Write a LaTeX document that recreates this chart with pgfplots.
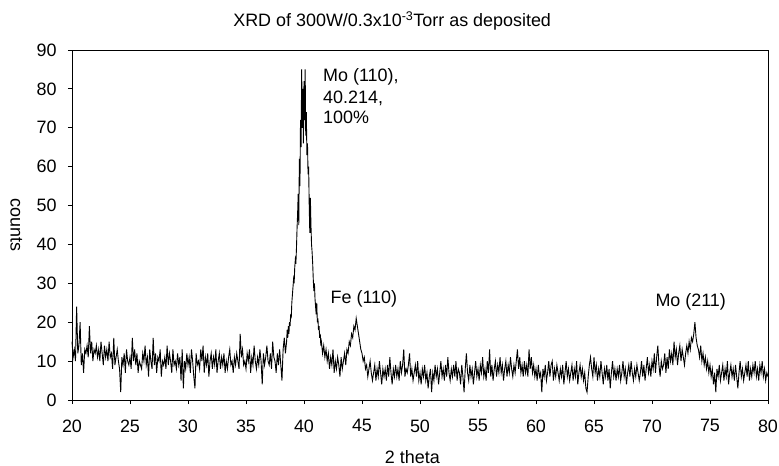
\documentclass[border=0pt]{standalone}
\usepackage{fontspec}
\setmainfont{Liberation Sans}
\usepackage{pgfplots}
\pgfplotsset{compat=1.18}

\begin{document}
\begin{tikzpicture}
\useasboundingbox (-72bp,-66bp) rectangle (707bp,400bp);
\begin{axis}[
    at={(0,0)}, anchor=south west,
    width=696bp, height=350bp, scale only axis,
    xmin=20, xmax=80, ymin=0, ymax=90,
    xtick={20,25,...,80},
    ytick={0,10,...,90},
    tick align=outside, tick pos=left,
    major tick length=4bp,
    axis line style={line width=0.9pt},
    every tick/.style={black, line width=0.8pt},
    font=\fontsize{18}{22}\selectfont,
    tick label style={font=\fontsize{18}{22}\selectfont},
    xticklabel style={yshift=-12bp},
    yticklabel style={xshift=-8bp},
    /pgf/number format/assume math mode=true,
    xlabel={2 theta},
    ylabel={counts},
    every axis x label/.style={at={(axis description cs:0.489,-0.163)}, anchor=center},
    every axis y label/.style={at={(axis description cs:-0.08,0.5)}, anchor=center, rotate=-90},
    clip=false,
]
\addplot[black, line width=0.9bp] coordinates {
(20.0,15)(20.1,11)(20.2,13)(20.3,10)(20.4,24)(20.5,12)(20.6,14)(20.7,20)(20.8,9)(20.9,12)
(21.0,7)(21.1,13)(21.2,12)(21.3,14)(21.4,11)(21.5,19)(21.6,12)(21.7,15)(21.8,10)(21.9,13)
(22.0,12)(22.1,14)(22.2,11)(22.3,13)(22.4,10)(22.5,15)(22.6,12)(22.7,9)(22.8,14)(22.9,11)
(23.0,13)(23.1,10)(23.2,15)(23.3,11)(23.4,12)(23.5,8)(23.6,16)(23.7,9)(23.8,11)(23.9,13)
(24.0,10)(24.1,8)(24.2,2)(24.3,11)(24.4,9)(24.5,12)(24.6,7)(24.7,13)(24.8,10)(24.9,9)
(25.0,11)(25.1,8)(25.2,16)(25.3,10)(25.4,13)(25.5,9)(25.6,12)(25.7,7)(25.8,10)(25.9,9)
(26.0,8)(26.1,12)(26.2,10)(26.3,14)(26.4,9)(26.5,11)(26.6,6)(26.7,13)(26.8,10)(26.9,8)
(27.0,16)(27.1,9)(27.2,12)(27.3,7)(27.4,11)(27.5,10)(27.6,13)(27.7,6)(27.8,10)(27.9,9)
(28.0,11)(28.1,8)(28.2,14)(28.3,9)(28.4,12)(28.5,10)(28.6,7)(28.7,13)(28.8,9)(28.9,10)
(29.0,8)(29.1,12)(29.2,9)(29.3,11)(29.4,5)(29.5,13)(29.6,3)(29.7,10)(29.8,8)(29.9,12)
(30.0,9)(30.1,11)(30.2,7)(30.3,13)(30.4,10)(30.5,6)(30.6,3)(30.7,12)(30.8,9)(30.9,10)
(31.0,8)(31.1,13)(31.2,10)(31.3,14)(31.4,7)(31.5,11)(31.6,9)(31.7,12)(31.8,6)(31.9,10)
(32.0,12)(32.1,8)(32.2,11)(32.3,9)(32.4,13)(32.5,7)(32.6,10)(32.7,12)(32.8,8)(32.9,11)
(33.0,9)(33.1,12)(33.2,7)(33.3,10)(33.4,8)(33.5,11)(33.6,13)(33.7,9)(33.8,10)(33.9,7)
(34.0,11)(34.1,9)(34.2,12)(34.3,10)(34.4,8)(34.5,17)(34.6,11)(34.7,13)(34.8,9)(34.9,10)
(35.0,8)(35.1,12)(35.2,10)(35.3,13)(35.4,7)(35.5,11)(35.6,9)(35.7,14)(35.8,10)(35.9,8)
(36.0,11)(36.1,9)(36.2,13)(36.3,10)(36.4,4)(36.5,12)(36.6,9)(36.7,11)(36.8,14)(36.9,10)
(37.0,9)(37.1,12)(37.2,8)(37.3,15)(37.4,11)(37.5,10)(37.6,7)(37.7,12)(37.8,9)(37.9,13)
(38.0,9)(38.1,5)(38.2,13)(38.3,16)(38.4,12)
(38.50,15)(38.55,18)(38.60,16)(38.65,19)(38.70,17)(38.75,20)(38.80,19)(38.85,22)(38.90,21)(38.95,25)
(39.00,27)(39.05,29)(39.10,31)(39.15,30)(39.20,34)(39.25,36)(39.30,35)(39.35,39)(39.40,44)(39.45,48)
(39.50,53)(39.55,45)(39.60,62)(39.65,55)(39.70,72)(39.75,65)(39.80,85)(39.85,70)(39.90,80)(39.95,66)
(40.00,82)(40.05,72)(40.10,85)(40.15,68)(40.20,74)(40.25,63)(40.30,66)(40.35,58)(40.40,60)(40.45,50)
(40.50,43)(40.55,52)(40.60,45)(40.65,40)(40.70,38)(40.75,35)(40.80,31)(40.85,28)(40.90,30)(40.95,26)
(41.00,24)(41.05,22)(41.10,25)(41.15,20)(41.20,21)(41.25,18)(41.30,19)(41.35,16)(41.40,17)(41.45,14)
(41.5,15)(41.6,12)(41.7,14)(41.8,11)(41.9,13)
(42.0,10)(42.1,12)(42.2,8)(42.3,11)(42.4,9)(42.5,13)(42.6,7)(42.7,10)(42.8,8)(42.9,11)
(43.0,9)(43.1,6)(43.2,11)(43.3,8)(43.4,10)(43.5,12)(43.6,9)(43.7,13)(43.8,12)(43.9,15)
(44.0,14)(44.1,17)(44.2,16)(44.3,19)(44.4,18)(44.5,21)(44.6,19)(44.7,17)(44.8,15)(44.9,13)
(45.0,12)(45.1,10)(45.2,11)(45.3,8)(45.4,9)(45.5,6)(45.6,8)(45.7,10)(45.8,7)(45.9,5)
(46.0,7)(46.1,9)(46.2,5)(46.3,8)(46.4,6)(46.5,10)(46.6,7)(46.7,4)(46.8,8)(46.9,6)
(47.0,8)(47.1,5)(47.2,9)(47.3,6)(47.4,11)(47.5,7)(47.6,4)(47.7,8)(47.8,6)(47.9,9)
(48.0,6)(48.1,8)(48.2,5)(48.3,10)(48.4,7)(48.5,9)(48.6,13)(48.7,6)(48.8,8)(48.9,7)
(49.0,9)(49.1,12)(49.2,6)(49.3,8)(49.4,5)(49.5,7)(49.6,9)(49.7,6)(49.8,10)(49.9,5)
(50.0,7)(50.1,4)(50.2,8)(50.3,6)(50.4,9)(50.5,5)(50.6,7)(50.7,3)(50.8,6)(50.9,8)
(51.0,2)(51.1,7)(51.2,5)(51.3,9)(51.4,6)(51.5,8)(51.6,4)(51.7,7)(51.8,10)(51.9,6)
(52.0,8)(52.1,5)(52.2,9)(52.3,6)(52.4,11)(52.5,7)(52.6,5)(52.7,8)(52.8,6)(52.9,9)
(53.0,6)(53.1,10)(53.2,5)(53.3,8)(53.4,7)(53.5,4)(53.6,9)(53.7,6)(53.8,2)(53.9,8)
(54.0,12)(54.1,7)(54.2,5)(54.3,9)(54.4,6)(54.5,8)(54.6,4)(54.7,7)(54.8,10)(54.9,6)
(55.0,8)(55.1,5)(55.2,9)(55.3,7)(55.4,11)(55.5,6)(55.6,8)(55.7,5)(55.8,10)(55.9,7)
(56.0,13)(56.1,6)(56.2,9)(56.3,5)(56.4,8)(56.5,10)(56.6,6)(56.7,9)(56.8,7)(56.9,11)
(57.0,7)(57.1,9)(57.2,5)(57.3,8)(57.4,10)(57.5,6)(57.6,9)(57.7,7)(57.8,11)(57.9,8)
(58.0,6)(58.1,9)(58.2,7)(58.3,10)(58.4,13)(58.5,8)(58.6,11)(58.7,7)(58.8,9)(58.9,6)
(59.0,10)(59.1,7)(59.2,9)(59.3,6)(59.4,13)(59.5,8)(59.6,11)(59.7,7)(59.8,9)(59.9,6)
(60.0,8)(60.1,5)(60.2,9)(60.3,6)(60.4,7)(60.5,2)(60.6,8)(60.7,6)(60.8,9)(60.9,5)
(61.0,7)(61.1,10)(61.2,6)(61.3,9)(61.4,10)(61.5,5)(61.6,8)(61.7,6)(61.8,9)(61.9,7)
(62.0,5)(62.1,8)(62.2,6)(62.3,9)(62.4,4)(62.5,7)(62.6,10)(62.7,6)(62.8,8)(62.9,5)
(63.0,7)(63.1,9)(63.2,5)(63.3,8)(63.4,6)(63.5,10)(63.6,4)(63.7,7)(63.8,9)(63.9,6)
(64.0,8)(64.1,5)(64.2,7)(64.3,3)(64.4,2)(64.5,6)(64.6,9)(64.7,11)(64.8,8)(64.9,6)
(65.0,11)(65.1,7)(65.2,9)(65.3,5)(65.4,8)(65.5,6)(65.6,10)(65.7,7)(65.8,4)(65.9,8)
(66.0,6)(66.1,9)(66.2,5)(66.3,8)(66.4,3)(66.5,7)(66.6,10)(66.7,6)(66.8,8)(66.9,5)
(67.0,8)(67.1,6)(67.2,9)(67.3,5)(67.4,7)(67.5,10)(67.6,6)(67.7,8)(67.8,4)(67.9,7)
(68.0,9)(68.1,6)(68.2,10)(68.3,7)(68.4,5)(68.5,8)(68.6,6)(68.7,9)(68.8,7)(68.9,5)
(69.0,7)(69.1,10)(69.2,6)(69.3,9)(69.4,5)(69.5,8)(69.6,11)(69.7,7)(69.8,9)(69.9,6)
(70.0,10)(70.1,8)(70.2,12)(70.3,7)(70.4,11)(70.5,14)(70.6,9)(70.7,6)(70.8,10)(70.9,8)
(71.0,9)(71.1,12)(71.2,7)(71.3,11)(71.4,8)(71.5,13)(71.6,10)(71.7,12)(71.8,9)(71.9,15)
(72.0,11)(72.1,13)(72.2,9)(72.3,12)(72.4,14)(72.5,10)(72.6,13)(72.7,11)(72.8,9)(72.9,12)
(73.0,14)(73.1,12)(73.2,15)(73.3,13)(73.4,16)(73.5,15)(73.6,17)(73.7,20)(73.8,16)(73.9,14)
(74.0,13)(74.1,11)(74.2,14)(74.3,10)(74.4,12)(74.5,9)(74.6,11)(74.7,8)(74.8,10)(74.9,7)
(75.0,9)(75.1,6)(75.2,8)(75.3,4)(75.4,7)(75.5,2)(75.6,8)(75.7,6)(75.8,9)(75.9,5)
(76.0,7)(76.1,9)(76.2,5)(76.3,8)(76.4,6)(76.5,10)(76.6,4)(76.7,7)(76.8,9)(76.9,6)
(77.0,8)(77.1,5)(77.2,9)(77.3,6)(77.4,3)(77.5,7)(77.6,10)(77.7,6)(77.8,8)(77.9,5)
(78.0,7)(78.1,9)(78.2,6)(78.3,10)(78.4,5)(78.5,8)(78.6,6)(78.7,9)(78.8,7)(78.9,10)
(79.0,6)(79.1,8)(79.2,5)(79.3,9)(79.4,7)(79.5,10)(79.6,6)(79.7,8)(79.8,5)(79.9,7)
(80.0,6)
};
\node[anchor=base west] at (axis cs:41.35,81.8) {Mo (110),};
\node[anchor=base west] at (axis cs:41.35,76.2) {40.214,};
\node[anchor=base west] at (axis cs:41.35,71.1) {100\%};
\node[anchor=base west] at (axis cs:42.0,24.8) {Fe (110)};
\node[anchor=base west] at (axis cs:70.0,24.0) {Mo (211)};
\node[anchor=base] at (rel axis cs:0.46,1.066) {XRD of 300W/0.3x10\textsuperscript{-3}Torr as deposited};
\end{axis}
\end{tikzpicture}
\end{document}
